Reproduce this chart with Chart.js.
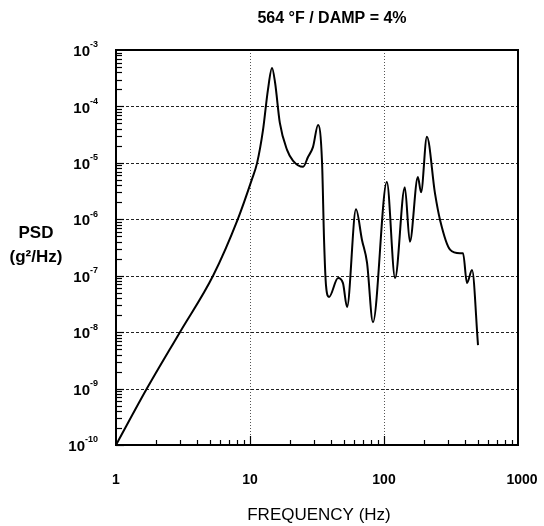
<!DOCTYPE html>
<html>
<head>
<meta charset="utf-8">
<script src="https://cdn.jsdelivr.net/npm/chart.js@4"></script>
<style>
  html, body { margin: 0; padding: 0; background: #fff; }
  #wrap { width: 544px; height: 526px; }
</style>
</head>
<body>
<div id="wrap"><canvas id="psdChart" width="544" height="526"></canvas></div>
<script>
// PSD curve (frequency in Hz, PSD in g^2/Hz)
const freq = [1, 1.7, 3.0, 5.3, 8.1, 10.3, 11.3, 12.5, 13.6, 14.6, 15.4, 16.7, 18.9, 20.9, 24.9,
  27.1, 29.5, 32.2, 34.5, 35.7, 36.9, 38.9, 45.4, 49.4, 53, 61.8, 68.5, 74.7, 82.7, 105,
  121, 143, 156, 179, 189, 209, 240, 262, 311, 369, 389, 416, 454, 503];
const psd = [1e-10, 1e-9, 1e-8, 1e-7, 1e-6, 5e-6, 1e-5, 3.8e-5, 1.95e-4, 4.8e-4, 2.6e-4, 5.1e-5, 1.7e-5, 1.1e-5, 8.5e-6,
  1.27e-5, 1.9e-5, 4.7e-5, 1e-5, 4.3e-7, 6.8e-8, 4.2e-8, 9.1e-8, 7.4e-8, 2.8e-8, 1.5e-6, 4.3e-7, 1.7e-7, 1.5e-8, 4.6e-6,
  9.1e-8, 3.7e-6, 4e-7, 5.6e-6, 3e-6, 2.9e-5, 2.9e-6, 9.7e-7, 2.9e-7, 2.5e-7, 2.5e-7, 7.4e-8, 1.26e-7, 5.9e-9];

const xTickValues = [1, 10, 100, 1000];
const xTickLabels = ["1", "10", "100", "1000"];
const yExponents = [-3, -4, -5, -6, -7, -8, -9, -10];

const titleText = "564 \u00B0F / DAMP = 4%";
const xTitle = "FREQUENCY (Hz)";
const yTitle = ["PSD", "(g\u00B2/Hz)"];

const FONT = '"Liberation Sans", Arial, sans-serif';

// gridlines, inward ticks, frame and all the free text
const framePlugin = {
  id: "frame",
  beforeDatasetsDraw(chart) {
    const { ctx, chartArea: a, scales } = chart;
    const x = scales.x, y = scales.y;
    ctx.save();
    ctx.lineWidth = 1;
    ctx.strokeStyle = "#222";
    ctx.setLineDash([3, 2]);
    yExponents.slice(1, -1).forEach((e) => {
      const py = Math.round(y.getPixelForValue(Math.pow(10, e))) + 0.5;
      ctx.beginPath();
      ctx.moveTo(a.left, py);
      ctx.lineTo(a.right, py);
      ctx.stroke();
    });
    ctx.strokeStyle = "#555";
    ctx.setLineDash([1, 2]);
    xTickValues.slice(1, -1).forEach((v) => {
      const px = Math.round(x.getPixelForValue(v)) + 0.5;
      ctx.beginPath();
      ctx.moveTo(px, a.top);
      ctx.lineTo(px, a.bottom);
      ctx.stroke();
    });
    ctx.restore();
  },
  afterDatasetsDraw(chart) {
    const { ctx, chartArea: a, scales } = chart;
    const x = scales.x, y = scales.y;
    ctx.save();
    ctx.strokeStyle = "#000";
    ctx.lineWidth = 2;
    ctx.strokeRect(a.left, a.top, a.right - a.left, a.bottom - a.top);

    // minor ticks on the left axis
    ctx.lineWidth = 1.2;
    for (let e = -10; e < -3; e++) {
      for (let m = 1; m < 10; m++) {
        const py = Math.round(y.getPixelForValue(m * Math.pow(10, e))) + 0.5;
        ctx.beginPath();
        ctx.moveTo(a.left, py);
        ctx.lineTo(a.left + (m === 1 ? 8 : 6), py);
        ctx.stroke();
      }
    }
    // ticks on the bottom axis
    [1, 10, 100].forEach((d) => {
      for (let m = 1; m < 10; m++) {
        if (d === 1 && m === 1) continue;
        const px = Math.round(x.getPixelForValue(m * d)) + 0.5;
        ctx.beginPath();
        ctx.moveTo(px, a.bottom);
        ctx.lineTo(px, a.bottom - (m === 1 ? 9 : 5));
        ctx.stroke();
      }
    });

    ctx.fillStyle = "#000";
    ctx.textBaseline = "middle";
    // x tick labels
    ctx.font = "bold 14px " + FONT;
    ctx.textAlign = "center";
    xTickValues.forEach((v, i) => {
      ctx.fillText(xTickLabels[i], x.getPixelForValue(v) + (i === 3 ? 4 : 0), a.bottom + 35);
    });

    // y tick labels with superscript exponents
    yExponents.forEach((e) => {
      const py = y.getPixelForValue(Math.pow(10, e));
      const right = 98;
      ctx.font = "bold 9px " + FONT;
      const sup = String(e);
      const w = ctx.measureText(sup).width;
      ctx.textAlign = "left";
      ctx.fillText(sup, right - w, py - 5);
      ctx.font = "bold 15px " + FONT;
      ctx.textAlign = "right";
      ctx.fillText("10", right - w, py + 2);
    });

    // titles
    ctx.textAlign = "center";
    ctx.font = "bold 16px " + FONT;
    ctx.fillText(titleText, 332, 19);
    ctx.font = "17px " + FONT;
    ctx.fillText(xTitle, 319, 515);
    ctx.font = "bold 17px " + FONT;
    ctx.fillText(yTitle[0], 36, 233);
    ctx.fillText(yTitle[1], 36, 257);
    ctx.restore();
  },
};

new Chart(document.getElementById("psdChart").getContext("2d"), {
  type: "line",
  data: {
    datasets: [
      {
        data: freq.map((f, i) => ({ x: f, y: psd[i] })),
        borderColor: "#000",
        borderWidth: 2,
        pointRadius: 0,
        fill: false,
        cubicInterpolationMode: "monotone",
      },
    ],
  },
  options: {
    responsive: false,
    animation: false,
    layout: {
      padding: { top: 50, right: 26, left: 0, bottom: 0 },
    },
    plugins: {
      legend: { display: false },
      tooltip: { enabled: false },
    },
    scales: {
      x: {
        type: "logarithmic",
        min: 1,
        max: 1000,
        grid: { display: false, drawTicks: false },
        border: { display: false },
        ticks: { display: false },
        afterFit: (scale) => {
          scale.height = 81;
        },
      },
      y: {
        type: "logarithmic",
        min: 1e-10,
        max: 1e-3,
        grid: { display: false, drawTicks: false },
        border: { display: false },
        ticks: { display: false },
        afterFit: (scale) => {
          scale.width = 116;
        },
      },
    },
  },
  plugins: [framePlugin],
});
</script>
</body>
</html>
